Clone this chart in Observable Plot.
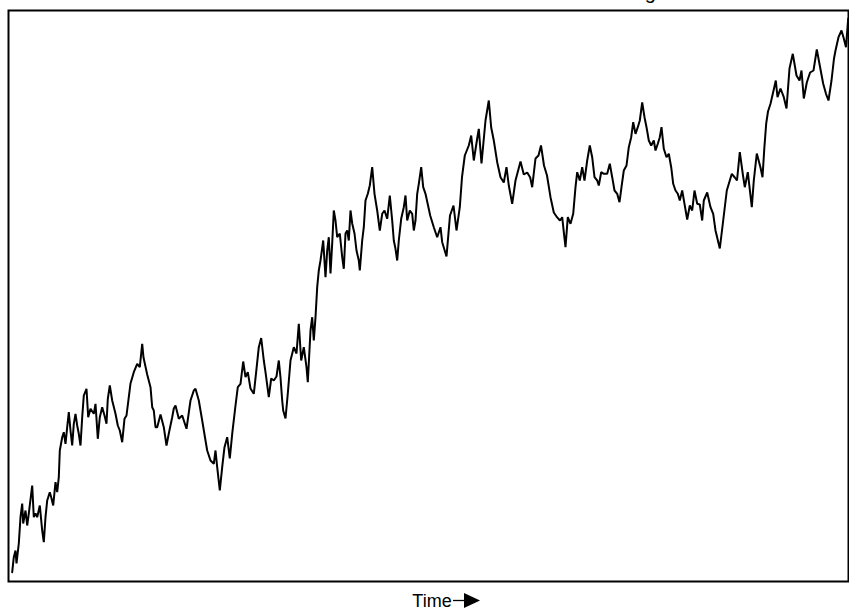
<!DOCTYPE html>
<html><head><meta charset="utf-8">
<script src="https://cdn.jsdelivr.net/npm/d3@7"></script>
<script src="https://cdn.jsdelivr.net/npm/@observablehq/plot@0.6"></script>
<style>
html,body{margin:0;padding:0;background:#fff;overflow:hidden;}
#chart svg{display:block;}
</style>
</head><body><div id="chart"></div>
<script>
const titleText = "A Random Walk in Stock Market Pricing";
const xLabel = "Time";

const day = [3.7,5.3,7,8,10.3,12,13.7,14.7,17,18.7,20.3,23.7,25.3,27,28.7,31.3,33.7,35.3,37,38.7,41.3,42.7,44.7,47,48.7,50.3,51.3,53.7,55.3,57,58.7,60.3,62,63.7,65.3,67,68.7,70.3,72,73.7,75.3,78,79.7,82,85.3,87,89.3,91.3,93.7,96,98,99.3,101.3,103.7,107,109.3,111.3,113.7,116,118,120.3,122,125.3,128.7,131.3,133.7,135,138.7,142,143.7,145.3,147,148.7,152,155.3,158,160.3,163.7,165.3,167,170.3,173.7,178,182,185.3,187,190.3,193.7,197,198.7,202,205.3,207,208.7,211.3,213.7,216,218.7,221.3,223.7,227,229.3,232,234.7,237,239.3,242,245.3,248,250.3,252.7,255.3,257,260.3,262.7,265.3,268,270.3,272,273.7,274.7,277,279.3,282,285.3,288,290.3,292.7,295.3,298,299.3,302,303.7,305.3,307,308.7,310.3,312,314.7,317,318.7,320.3,322,323.7,325.3,327,328.7,331.3,333.7,335.3,337,338.7,340.3,342,343.7,346,348,350.3,351.3,353.7,355.3,357,359.3,361.3,363.7,366,368.7,371.3,373.7,376,378.7,381.3,383.7,385.3,387,388.7,390.3,392.7,395.3,397,398.7,401.3,403.7,405.3,407,408.7,410.3,412.7,414.7,417,421.7,425.3,428.7,432,433.7,438,441.5,445,448,451.3,453.5,456.3,460.3,462.7,465.3,468.7,470.3,473,477,480.3,482.7,485.3,488.7,492,495.3,498,500.3,503.7,507,512,515.3,518.7,521.7,523.7,527,530,532.5,535.5,538.5,542,545.3,548.5,551.5,553.7,555.5,557,559.3,562,564.7,567,568.7,571.3,573.7,576,578.7,581.3,583.7,586,588.7,590.3,592.7,595.3,598.7,601.3,603.7,606,608.7,611,613,615.3,618,620.3,622.7,624.7,627,629.3,631.3,633.7,636,638,640.3,642.7,645.3,647,649.3,651.3,653,655.3,658,660.3,662.7,664.7,667,669.3,671.3,673.7,676,678.7,681.3,683.7,686,688.7,691.3,693.7,695.3,698.7,702,704.7,707,711.3,714.7,718.3,723.3,726.3,728.5,731.3,734.5,736.3,739.3,743.3,745.3,748.3,752,754,755.8,757.7,759.5,762,765.5,767.3,769,772,775.3,778,781,784.3,788,791,793,795.3,798.3,801.6,805,808.3,811.6,814.7,817.5,820,823,825.5,827,830,833,835.3,837.5,839.7];

const price = [9.3,24.3,31,18,38,64.3,78,58,71,56,68,96,64.3,68,64.3,76,51,39.3,64.3,81,89.3,84.3,76,99.3,89.3,104.3,131,144.3,149.3,137.7,154.3,169.3,151,136,157.7,167.7,156,147.7,136,164.3,186,192.7,164.3,172.7,167.7,177.7,142.7,164.3,174.3,166,157.7,182.7,196,181,167.7,156,151,139.3,162.7,166,184.3,198,209.3,217.7,214.3,237.7,224,207,194.3,174.3,171,154.3,154.3,167,154.3,136,148,164.3,173,176,162.7,166,152.7,181,191,192.7,181,161,141,131,121,117.7,131,114.3,91,114.3,134.3,144.3,123,147.7,176,194.3,197.7,220,204.3,209.3,193,187.7,212.7,234.3,243.5,221,209.3,184.3,203,201,205,221,204,181,171,163,188,221,234.3,228,257.7,221,234.3,214.3,199.3,251,264.3,241,264.3,294.3,311,321,341,304.3,331,344.3,308,338,371,361,344.3,348,324.3,312.7,348,351,341,371,358,348,331,321,311,341,354.3,381,387.7,396,414.3,387.7,371,351,367.7,371,362.7,386,361,341,332.7,321,341,362.7,374.3,386,361,371,367.7,351,361,387.7,397.7,414.3,394.3,387.7,366,354.3,344.3,354.3,339.3,325,366,376,351,374.3,404.3,426,436,446,421,443,452.7,418,461,481,454,441,419.3,404.3,399,414.3,396,377.7,401,420,407,409,404,394.3,423,426,436,416,406,384.3,369,364.3,361,364.3,347.7,334.3,364.3,357.7,367.7,394.3,409.3,401,414.3,401,421,436,424.3,404.3,401,396,409.3,407.7,407.7,417.7,404.3,391,387.7,379.3,394.3,411,416,434.3,444.3,459.3,447.7,454.3,461,479,464.3,454.3,441,436,441,431,437.7,444.3,454.3,432.7,424.3,427.7,414.3,397.7,391,387.7,381,391,377.7,362,376,371,391,377.7,377,361,381,389,374.3,367.7,351,333,361,391,407.7,404,401,429.3,406,394.3,409.3,374.3,401,428,414,404.3,433,458,470,477.7,493,501,484.3,493,484.3,473,513,527.7,506,501,511,483,499,509,511,532,514.3,497.7,487.7,481,501,523,531,544.3,551,543,534.3,563];

const data = day.map((d, i) => ({day: d, price: price[i]}));

const chart = Plot.plot({
  width: 849,
  height: 612,
  marginLeft: 8,
  marginRight: 1,
  marginTop: 10,
  marginBottom: 31,
  x: {domain: [0, 840], axis: null},
  y: {domain: [0, 571], axis: null},
  style: {fontFamily: "'Liberation Sans', Arial, sans-serif", background: "white", overflow: "hidden"},
  marks: [
    Plot.line(data, {x: "day", y: "price", stroke: "black", strokeWidth: 2, strokeLinejoin: "miter"}),
    Plot.frame({stroke: "black", strokeWidth: 2}),
    Plot.text([xLabel], {frameAnchor: "bottom", dx: 3.5, dy: 20, fontSize: 18, fill: "black", textAnchor: "middle", lineAnchor: "middle"})
  ]
});

const svg = d3.select(chart);
svg.append("line").attr("x1", 453).attr("x2", 465).attr("y1", 600.5).attr("y2", 600.5)
  .attr("stroke", "black").attr("stroke-width", 1.3);
svg.append("path").attr("d", "M464,593L480,600.5L464,608Z").attr("fill", "black");
// title: only its descenders show at the very top of the picture
svg.append("text").attr("x", 656).attr("y", -1).attr("text-anchor", "end")
  .attr("font-size", 20).attr("font-family", "'Liberation Sans', Arial, sans-serif")
  .attr("fill", "black").text(titleText);

document.getElementById("chart").appendChild(chart);
</script>
</body></html>
